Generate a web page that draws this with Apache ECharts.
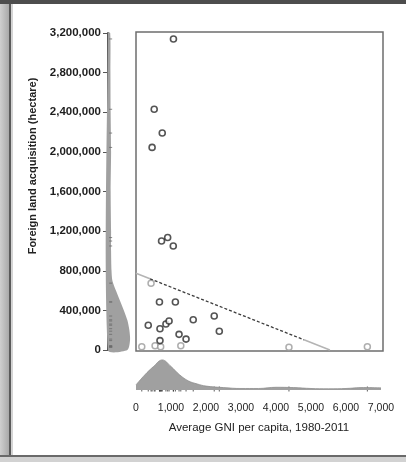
<!DOCTYPE html>
<html>
<head>
<meta charset="utf-8">
<script src="https://cdn.jsdelivr.net/npm/echarts@6/dist/echarts.min.js"></script>
<style>
  html, body { margin: 0; padding: 0; background: #fff; }
  #chart { width: 406px; height: 462px; }
</style>
</head>
<body>
<div id="chart"></div>
<script>
// Countries: average GNI per capita (1980-2011) and hectares acquired by foreign investors
const gniPerCapita = [1070, 520, 750, 460, 730, 905, 1065, 670, 1125, 350, 685, 855, 945, 1635, 2235, 2380, 1230, 1430, 685];
const landAcquired = [3140000, 2430000, 2190000, 2045000, 1100000, 1135000, 1050000, 485000, 485000, 250000, 215000, 262000, 293000, 305000, 343000, 190000, 158000, 110000, 95000];

// Countries drawn in light grey
const gniMinor = [430, 165, 545, 705, 1280, 4370, 6610];
const landMinor = [675000, 33000, 43000, 33000, 43000, 27000, 33000];

// Linear fit: grey at both ends, dotted in the middle
const fitGniStart = [0, 400];
const fitLandStart = [775000, 719000];
const fitGniMid = [400, 4800];
const fitLandMid = [719000, 103000];
const fitGniEnd = [4800, 5540];
const fitLandEnd = [103000, 0];

// Marginal density of land acquired (relative to its peak)
const landLevels = [0, 100000, 200000, 300000, 400000, 500000, 600000, 700000, 800000, 1000000, 1200000, 1600000, 2000000, 2400000, 2800000, 3200000];
const landDensity = [0.88, 1.0, 0.97, 0.88, 0.72, 0.54, 0.36, 0.2, 0.16, 0.14, 0.14, 0.12, 0.14, 0.12, 0.11, 0.1];

// Marginal density of GNI per capita (relative to its peak)
const gniLevels = [0, 250, 500, 750, 1000, 1250, 1500, 1750, 2000, 2500, 3000, 3500, 4000, 4500, 5000, 5500, 6000, 6500, 7000];
const gniDensity = [0.17, 0.5, 0.78, 1.0, 0.78, 0.5, 0.3, 0.2, 0.13, 0.08, 0.05, 0.05, 0.09, 0.08, 0.05, 0.04, 0.05, 0.08, 0.07];

// Axis ticks
const landTicks = [0, 400000, 800000, 1200000, 1600000, 2000000, 2400000, 2800000, 3200000];
const gniTicks = [0, 1000, 2000, 3000, 4000, 5000, 6000, 7000];

const FONT = "'Liberation Sans', Arial, sans-serif";
const fmt = v => Number(v).toLocaleString('en-US');

const allGni = gniPerCapita.concat(gniMinor);
const allLand = landAcquired.concat(landMinor);
const pairs = (xs, ys) => xs.map((x, i) => [x, ys[i]]);

const chart = echarts.init(document.getElementById('chart'), null, { renderer: 'canvas' });

chart.setOption({
  animation: false,
  backgroundColor: '#ffffff',
  grid: [
    { left: 136, top: 32, width: 247, height: 319, show: true, borderColor: '#6e6e6e', borderWidth: 1.5, backgroundColor: 'transparent' },
    { left: 108, top: 33, width: 28, height: 317 },
    { left: 136, top: 356, width: 245, height: 34 }
  ],
  xAxis: [
    { gridIndex: 0, type: 'value', min: 0, max: 7057, show: false },
    { gridIndex: 1, type: 'value', min: 0, max: 1.27, show: false },
    {
      gridIndex: 2, type: 'value', min: gniTicks[0], max: gniTicks[gniTicks.length - 1], interval: 1000,
      axisLine: { show: false }, axisTick: { show: false }, splitLine: { show: false },
      axisLabel: { margin: 13, color: '#1e1e1e', fontSize: 10.5, fontFamily: FONT, formatter: fmt, showMinLabel: true, showMaxLabel: true }
    }
  ],
  yAxis: [
    { gridIndex: 0, type: 'value', min: -10000, max: 3210000, show: false },
    {
      gridIndex: 1, type: 'value', min: landTicks[0], max: landTicks[landTicks.length - 1], interval: 400000,
      axisLine: { show: true, lineStyle: { color: '#555', width: 2 } },
      axisTick: { show: true, length: 5, lineStyle: { color: '#555', width: 1 } },
      splitLine: { show: false },
      axisLabel: { margin: 7, color: '#1e1e1e', fontSize: 11.5, fontWeight: 'bold', fontFamily: FONT, formatter: fmt }
    },
    { gridIndex: 2, type: 'value', min: 0, max: 1.13, show: false }
  ],
  graphic: [
    // page frame
    { type: 'rect', shape: { x: 0, y: 0, width: 9, height: 462 },
      style: { fill: new echarts.graphic.LinearGradient(0, 0, 1, 0, [{ offset: 0, color: '#cfcfcf' }, { offset: 1, color: '#a9a9a9' }]) } },
    { type: 'rect', shape: { x: 9, y: 0, width: 2, height: 462 }, style: { fill: '#5a5a5a' } },
    { type: 'rect', shape: { x: 11, y: 0, width: 2, height: 462 }, style: { fill: '#d4d4d4' } },
    { type: 'rect', shape: { x: 0, y: 0, width: 406, height: 4 }, style: { fill: '#4d4d4d' } },
    { type: 'rect', shape: { x: 0, y: 455, width: 406, height: 2 }, style: { fill: '#6a6a6a' } },
    { type: 'rect', shape: { x: 0, y: 457, width: 406, height: 5 }, style: { fill: '#d2d2d2' } },
    // axis titles
    { type: 'text', x: 259, y: 428,
      style: { text: 'Average GNI per capita, 1980-2011', align: 'center', verticalAlign: 'middle', textAlign: 'center', textVerticalAlign: 'middle',
               font: '11.5px ' + FONT, fill: '#222' } },
    { type: 'text', x: 33, y: 166, rotation: Math.PI / 2,
      style: { text: 'Foreign land acquisition (hectare)', align: 'center', verticalAlign: 'middle', textAlign: 'center', textVerticalAlign: 'middle',
               font: 'bold 11px ' + FONT, fill: '#222' } }
  ],
  series: [
    // marginal density along the y axis
    {
      type: 'custom', xAxisIndex: 1, yAxisIndex: 1, data: [0], silent: true, z: 1,
      renderItem: function (params, api) {
        const pts = landLevels.map((lv, i) => api.coord([landDensity[i], lv]));
        pts.unshift(api.coord([0, landLevels[0]]));
        pts.push(api.coord([0, landLevels[landLevels.length - 1]]));
        return { type: 'polygon', shape: { points: pts, smooth: 0.25 }, style: { fill: '#a0a0a0', stroke: null } };
      }
    },
    // rug along the y axis
    {
      type: 'scatter', xAxisIndex: 1, yAxisIndex: 1, symbol: 'rect', symbolSize: [3, 1], silent: true,
      itemStyle: { color: '#6a6a6a' }, data: allLand.map(v => [0.12, v])
    },
    // marginal density along the x axis
    {
      type: 'line', xAxisIndex: 2, yAxisIndex: 2, smooth: 0.4, showSymbol: false, silent: true,
      lineStyle: { width: 0.8, color: '#8e8e8e' }, areaStyle: { color: '#a0a0a0', opacity: 1 },
      data: pairs(gniLevels, gniDensity)
    },
    // rug along the x axis
    {
      type: 'scatter', xAxisIndex: 2, yAxisIndex: 2, symbol: 'rect', symbolSize: [1, 5], silent: true,
      itemStyle: { color: '#333' }, data: allGni.map(v => [v, 0.03])
    },
    // fitted line
    {
      type: 'line', xAxisIndex: 0, yAxisIndex: 0, showSymbol: false, silent: true,
      lineStyle: { color: '#b4b4b4', width: 1.5 }, data: pairs(fitGniStart, fitLandStart)
    },
    {
      type: 'line', xAxisIndex: 0, yAxisIndex: 0, showSymbol: false, silent: true,
      lineStyle: { color: '#3c3c3c', width: 1.3, type: [3, 2] }, data: pairs(fitGniMid, fitLandMid)
    },
    {
      type: 'line', xAxisIndex: 0, yAxisIndex: 0, showSymbol: false, silent: true,
      lineStyle: { color: '#b4b4b4', width: 1.5 }, data: pairs(fitGniEnd, fitLandEnd)
    },
    // observations
    {
      type: 'scatter', xAxisIndex: 0, yAxisIndex: 0, symbol: 'circle', symbolSize: 6, silent: true,
      itemStyle: { color: '#ffffff', borderColor: '#9a9a9a', borderWidth: 1.5 },
      data: pairs(gniMinor, landMinor)
    },
    {
      type: 'scatter', xAxisIndex: 0, yAxisIndex: 0, symbol: 'circle', symbolSize: 6, silent: true,
      itemStyle: { color: '#ffffff', borderColor: '#2a2a2a', borderWidth: 1.6 },
      data: pairs(gniPerCapita, landAcquired)
    }
  ]
});
</script>
</body>
</html>
